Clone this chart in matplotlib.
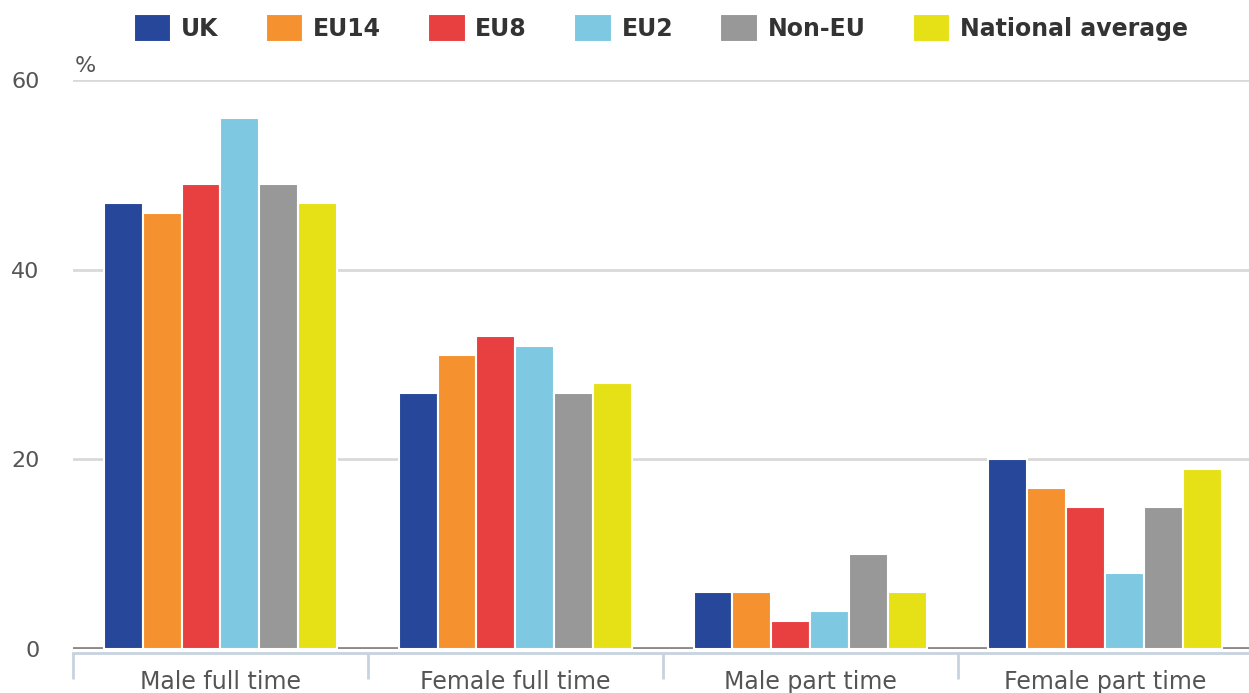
import matplotlib
matplotlib.use("Agg")
import matplotlib.pyplot as plt
import numpy as np

categories = ["Male full time", "Female full time", "Male part time", "Female part time"]
series_names = ["UK", "EU14", "EU8", "EU2", "Non-EU", "National average"]
uk = [47, 27, 6, 20]
eu14 = [46, 31, 6, 17]
eu8 = [49, 33, 3, 15]
eu2 = [56, 32, 4, 8]
non_eu = [49, 27, 10, 15]
national = [47, 28, 6, 19]
yticks = [0, 20, 40, 60]

series = [uk, eu14, eu8, eu2, non_eu, national]
colors = ["#27479a", "#f5922f", "#e84041", "#7ec9e1", "#989898", "#e6e117"]

plt.rcParams['font.family'] = ['DejaVu Sans']
fig = plt.figure(figsize=(12.49, 6.93), dpi=100)
ax = fig.add_axes([73/1249, 44/693, 1 - 73/1249 + 0.003, (649-80)/693])

x = np.arange(len(categories))
bw = 0.132
n = len(series)
for i, (vals, c, name) in enumerate(zip(series, colors, series_names)):
    offs = (i - (n - 1) / 2) * bw
    ax.bar(x + offs, vals, width=bw, color=c, edgecolor="white", linewidth=1.5,
           label=name, zorder=3)

ax.set_xlim(-0.5, 3.5)
ax.set_ylim(0, 60)
ax.set_yticks(yticks)
ax.set_yticklabels([str(t) for t in yticks])
ax.tick_params(axis='y', length=0, pad=24, labelsize=16, labelcolor="#555555")
ax.yaxis.grid(True, color="#d9d9d9", linewidth=2, zorder=0)
ax.axhline(0, color="#8a8a8a", linewidth=3.5, zorder=2)

ax.set_xticks(x)
ax.set_xticklabels(categories)
ax.tick_params(axis='x', which='major', length=0, pad=12, labelsize=17, labelcolor="#555555")
ax.set_xticks([-0.5, 0.5, 1.5, 2.5], minor=True)
ax.tick_params(axis='x', which='minor', length=19, width=2, color="#c8d3df")

for s in ["top", "right", "left"]:
    ax.spines[s].set_visible(False)
ax.spines["bottom"].set_position(("outward", 3))
ax.spines["bottom"].set_color("#c8d3df")
ax.spines["bottom"].set_linewidth(2)

ax.text(0.0015, 60.4, "%", transform=ax.get_yaxis_transform(), fontsize=16,
        color="#555555", ha="left", va="bottom")

fig.legend(loc="upper center", bbox_to_anchor=(0.529, 1.01), ncol=6, frameon=False,
           prop={"weight": "bold", "size": 17}, labelcolor="#333333",
           handlelength=1.6, handleheight=1.4, handletextpad=0.4, columnspacing=2.0)

fig.savefig("out.png", dpi=100)
